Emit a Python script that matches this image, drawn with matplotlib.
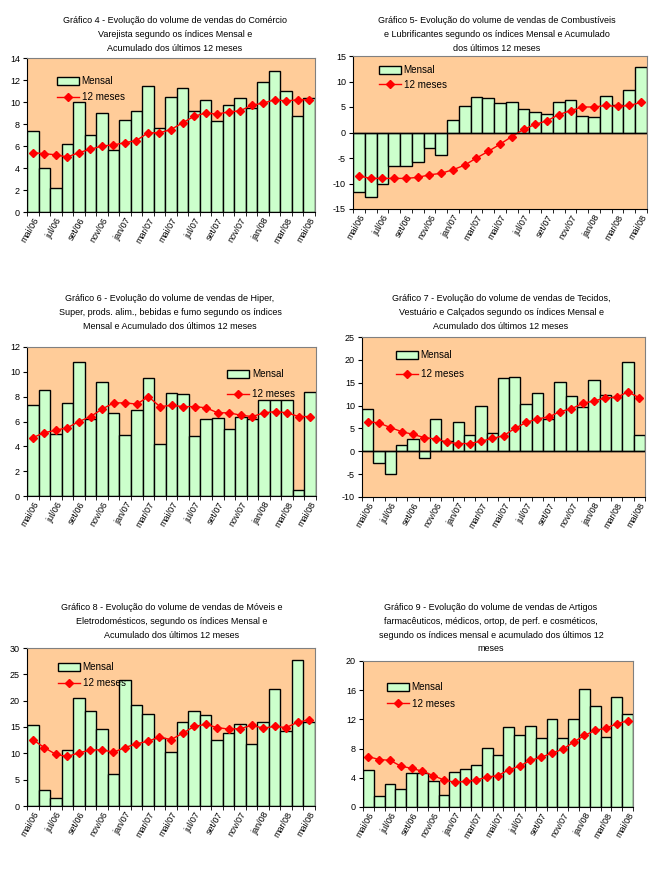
import matplotlib.pyplot as plt
import numpy as np

plt.rcParams['font.family'] = ['Liberation Sans', 'DejaVu Sans']

W, H = 659, 869

meses = ['mai/06', 'jun/06', 'jul/06', 'ago/06', 'set/06', 'out/06', 'nov/06', 'dez/06',
         'jan/07', 'fev/07', 'mar/07', 'abr/07', 'mai/07', 'jun/07', 'jul/07', 'ago/07',
         'set/07', 'out/07', 'nov/07', 'dez/07', 'jan/08', 'fev/08', 'mar/08', 'abr/08', 'mai/08']

mensal_4 = [7.4, 4.0, 2.2, 6.2, 10.0, 7.0, 9.0, 5.6, 8.4, 9.2, 11.5, 7.6, 10.5, 11.3, 9.2, 10.2,
            8.3, 9.7, 10.4, 9.5, 11.8, 12.8, 11.0, 8.7, 10.4]
doze_4 = [5.4, 5.3, 5.2, 5.0, 5.4, 5.7, 6.0, 6.1, 6.3, 6.5, 7.2, 7.2, 7.5, 8.1, 8.7, 9.0,
          8.9, 9.1, 9.2, 9.7, 9.9, 10.2, 10.1, 10.2, 10.2]

mensal_5 = [-11.7, -12.7, -10.1, -6.5, -6.6, -5.7, -3.1, -4.5, 2.5, 5.1, 7.0, 6.8, 5.7, 5.9, 4.7, 4.1,
            3.7, 5.9, 6.4, 3.3, 3.1, 7.2, 5.3, 8.4, 12.8]
doze_5 = [-8.5, -9.0, -9.0, -9.0, -9.0, -8.8, -8.3, -8.0, -7.3, -6.4, -5.0, -3.7, -2.3, -0.8, 0.6, 1.6,
          2.3, 3.5, 4.3, 5.0, 5.0, 5.3, 5.1, 5.3, 5.9]

mensal_6 = [7.3, 8.5, 5.0, 7.5, 10.8, 6.2, 9.2, 6.7, 4.9, 6.9, 9.5, 4.2, 8.3, 8.2, 4.8, 6.2,
            6.3, 5.4, 6.4, 6.2, 7.7, 7.7, 7.7, 0.5, 8.4]
doze_6 = [4.7, 5.1, 5.3, 5.5, 6.0, 6.4, 7.0, 7.5, 7.5, 7.4, 8.0, 7.2, 7.3, 7.2, 7.2, 7.1,
          6.7, 6.7, 6.5, 6.4, 6.7, 6.8, 6.7, 6.4, 6.4]

mensal_7 = [9.3, -2.6, -5.0, 1.3, 2.6, -1.5, 7.0, 2.2, 6.5, 3.5, 10.0, 4.1, 16.1, 16.3, 10.4, 12.8,
            7.0, 15.2, 12.2, 9.6, 15.5, 12.4, 11.9, 19.6, 3.5]
doze_7 = [6.5, 6.2, 5.2, 4.3, 3.7, 3.0, 2.7, 2.0, 1.7, 1.7, 2.2, 2.8, 3.4, 5.0, 6.3, 7.1,
          7.5, 8.7, 9.3, 10.5, 11.0, 11.7, 11.8, 13.0, 11.7]

mensal_8 = [15.3, 3.1, 1.5, 10.7, 20.6, 18.1, 14.7, 6.0, 24.0, 19.1, 17.5, 13.0, 10.3, 16.0, 18.1, 17.2,
            12.6, 13.8, 15.5, 11.7, 15.9, 22.3, 14.3, 27.7, 16.0]
doze_8 = [12.6, 11.1, 9.8, 9.4, 10.1, 10.6, 10.7, 10.2, 11.1, 11.8, 12.3, 13.1, 12.6, 13.8, 15.1, 15.5,
          14.9, 14.6, 14.7, 15.3, 14.8, 15.1, 14.9, 15.9, 16.4]

mensal_9 = [5.1, 1.5, 3.2, 2.5, 4.7, 4.7, 3.5, 1.7, 4.8, 5.2, 5.8, 8.1, 7.1, 10.9, 9.8, 11.1,
            9.4, 12.0, 9.4, 12.1, 16.1, 13.9, 9.6, 15.1, 12.8]
doze_9 = [6.9, 6.5, 6.4, 5.6, 5.3, 4.9, 4.3, 3.7, 3.4, 3.5, 3.7, 4.1, 4.3, 5.1, 5.6, 6.4,
          6.8, 7.4, 7.9, 8.9, 9.8, 10.5, 10.8, 11.4, 11.8]

titulo_4 = ['Gráfico 4 - Evolução do volume de vendas do Comércio',
            'Varejista segundo os índices Mensal e',
            'Acumulado dos últimos 12 meses']
titulo_5 = ['Gráfico 5- Evolução do volume de vendas de Combustíveis',
            'e Lubrificantes segundo os índices Mensal e Acumulado',
            'dos últimos 12 meses']
titulo_6 = ['Gráfico 6 - Evolução do volume de vendas de Hiper,',
            'Super, prods. alim., bebidas e fumo segundo os índices',
            'Mensal e Acumulado dos últimos 12 meses']
titulo_7 = ['Gráfico 7 - Evolução do volume de vendas de Tecidos,',
            'Vestuário e Calçados segundo os índices Mensal e',
            'Acumulado dos últimos 12 meses']
titulo_8 = ['Gráfico 8 - Evolução do volume de vendas de Móveis e',
            'Eletrodomésticos, segundo os índices Mensal e',
            'Acumulado dos últimos 12 meses']
titulo_9 = ['Gráfico 9 - Evolução do volume de vendas de Artigos',
            'farmacêuticos, médicos, ortop, de perf. e cosméticos,',
            'segundo os índices mensal e acumulado dos últimos 12',
            'meses']

BAR = '#CCFFCC'
BG = '#FFCC99'
RED = '#FF0000'
FS = 6.5

fig = plt.figure(figsize=(W / 100, H / 100), dpi=100)


def panel(box, mensal, doze, ylim, yticks, titulo, tx, ty, leg, lsp):
    x0, y0, x1, y1 = box
    ax = fig.add_axes([x0 / W, 1 - y1 / H, (x1 - x0) / W, (y1 - y0) / H])
    ax.set_facecolor(BG)
    x = np.arange(len(meses))
    bars = ax.bar(x, mensal, width=1.0, color=BAR, edgecolor='black', linewidth=1.0,
                  label='Mensal', zorder=2)
    line, = ax.plot(x, doze, color=RED, lw=1.0, marker='D', ms=4, mec=RED, mfc=RED,
                    label='12 meses', zorder=3)
    if ylim[0] < 0:
        ax.axhline(0, color='black', lw=1.0, zorder=4)
    ax.set_xlim(-0.5, len(meses) - 0.5)
    ax.set_ylim(*ylim)
    ax.set_yticks(yticks)
    ax.set_yticklabels([str(v) for v in yticks], fontsize=FS)
    ax.set_xticks(x[::2])
    ax.set_xticklabels(meses[::2], fontsize=FS, rotation=60, ha='right', va='top',
                       rotation_mode='anchor')
    ax.set_xticks(np.arange(-0.5, len(meses), 1), minor=True)
    ax.tick_params(axis='x', which='major', length=0, pad=3)
    ax.tick_params(axis='x', which='minor', length=3, direction='out')
    ax.tick_params(axis='y', length=3, direction='out', pad=2)
    for s in ['top', 'right']:
        ax.spines[s].set_color('#808080')
    for s in ['left', 'bottom']:
        ax.spines[s].set_color('black')
    ax.legend([bars, line], ['Mensal', '12 meses'], loc='upper left', bbox_to_anchor=leg,
              frameon=False, fontsize=FS + 0.6, handlelength=2.2, handleheight=0.8,
              labelspacing=lsp, handletextpad=0.3, borderaxespad=0)
    for i, linha in enumerate(titulo):
        fig.text(tx / W, 1 - (ty + i * 13.8) / H, linha, ha='center', va='center',
                 fontsize=FS)
    return ax


panel((27, 58, 315, 212), mensal_4, doze_4, (0, 14), range(0, 15, 2),
      titulo_4, 175, 20.5, (0.09, 0.907), 0.62)
panel((353, 56, 647, 209), mensal_5, doze_5, (-15, 15), range(-15, 16, 5),
      titulo_5, 497, 20.5, (0.075, 0.965), 0.45)
panel((27, 347, 316, 496), mensal_6, doze_6, (0, 12), range(0, 13, 2),
      titulo_6, 170, 298.5, (0.68, 0.877), 1.0)
panel((362, 337, 645, 497), mensal_7, doze_7, (-10, 25), range(-10, 26, 5),
      titulo_7, 501, 298.5, (0.106, 0.942), 0.93)
panel((27, 648, 315, 806), mensal_8, doze_8, (0, 30), range(0, 31, 5),
      titulo_8, 172, 607.5, (0.094, 0.935), 0.62)
panel((363, 661, 633, 807), mensal_9, doze_9, (0, 20), range(0, 21, 4),
      titulo_9, 491, 607.5, (0.074, 0.88), 0.62)

fig.savefig('out.png', dpi=100)
